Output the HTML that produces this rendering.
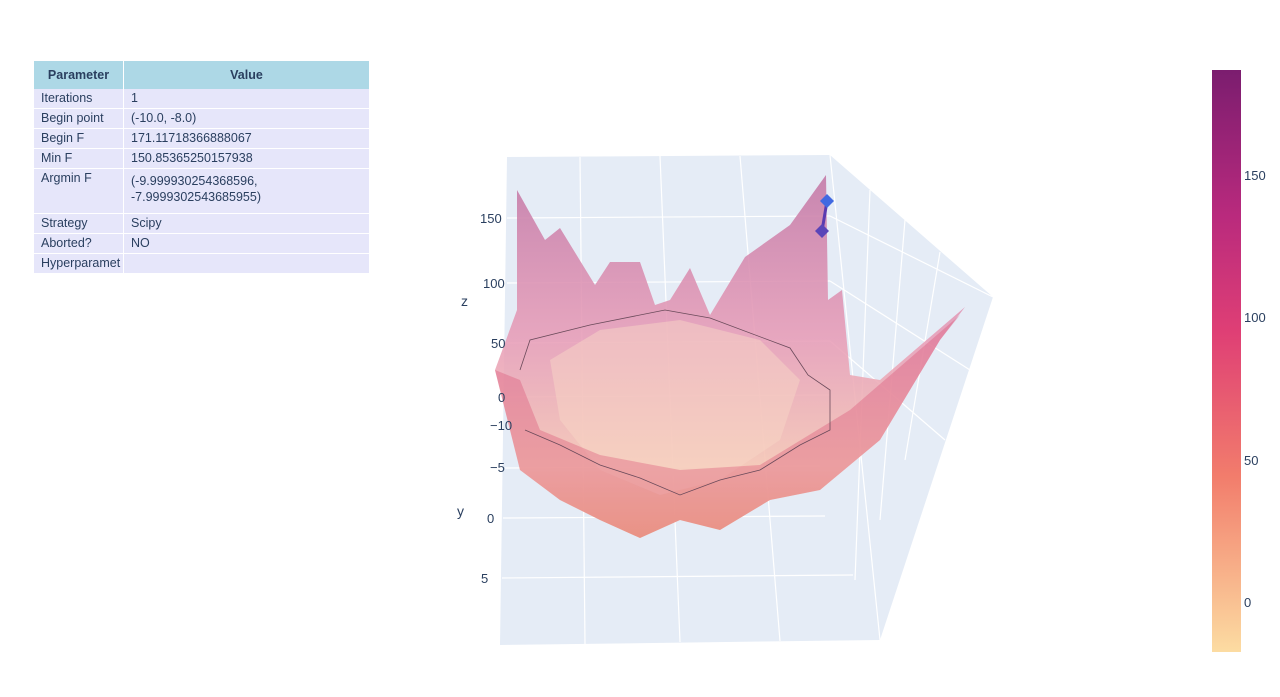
<!DOCTYPE html>
<html><head><meta charset="utf-8"><style>
body{margin:0;background:#fff;width:1280px;height:697px;overflow:hidden;font-family:"Liberation Sans",sans-serif;}
table{position:absolute;left:34px;top:61px;width:336px;border-collapse:collapse;font-size:12.5px;color:#2a3f5f;}
th{background:#add8e6;height:28px;font-weight:bold;border-right:1px solid #fff;padding:0;}
td{background:#e6e6fa;padding:1px 7px;border-bottom:1px solid #fff;border-right:1px solid #fff;vertical-align:top;height:17px;line-height:16px;}
</style></head><body>
<table>
<tr><th style="width:89px">Parameter</th><th>Value</th></tr>
<tr><td>Iterations</td><td>1</td></tr>
<tr><td>Begin point</td><td>(-10.0, -8.0)</td></tr>
<tr><td>Begin F</td><td>171.11718366888067</td></tr>
<tr><td>Min F</td><td>150.85365250157938</td></tr>
<tr><td style="height:42px">Argmin F</td><td style="padding-top:4px">(-9.999930254368596,<br>-7.9999302543685955)</td></tr>
<tr><td>Strategy</td><td>Scipy</td></tr>
<tr><td>Aborted?</td><td>NO</td></tr>
<tr><td style="white-space:nowrap;overflow:hidden;max-width:75px">Hyperparamet</td><td></td></tr>
</table>
<svg width="1280" height="697" style="position:absolute;left:0;top:0">
<defs>
<linearGradient id="cb" x1="0" y1="0" x2="0" y2="1">
<stop offset="0" stop-color="#7b1d6f"/><stop offset="0.25" stop-color="#b92a7d"/><stop offset="0.45" stop-color="#df3f75"/><stop offset="0.7" stop-color="#f27d6c"/><stop offset="1" stop-color="#fcdca2"/></linearGradient>
<linearGradient id="sf" x1="0" y1="0" x2="0" y2="1">
<stop offset="0" stop-color="#c47aa8" stop-opacity="0.9"/><stop offset="0.45" stop-color="#e79ab5" stop-opacity="0.85"/><stop offset="0.8" stop-color="#f6c6b4" stop-opacity="0.9"/><stop offset="1" stop-color="#f2b88f"/></linearGradient>
</defs>
<polygon points="507,157 830,155 993,297 880,640 500,645" fill="#e5ecf6"/>
<g stroke="#fff" stroke-width="1.2" fill="none">
<line x1="580" y1="157" x2="585" y2="644"/><line x1="660" y1="156" x2="680" y2="642"/><line x1="740" y1="156" x2="780" y2="641"/>
<line x1="507" y1="218" x2="830" y2="216"/><line x1="507" y1="283" x2="830" y2="281"/><line x1="507" y1="343" x2="830" y2="341"/><line x1="507" y1="397" x2="830" y2="395"/>
<line x1="505" y1="468" x2="820" y2="466"/><line x1="503" y1="518" x2="825" y2="516"/><line x1="502" y1="578" x2="853" y2="575"/>
<line x1="830" y1="155" x2="880" y2="640"/><line x1="870" y1="190" x2="855" y2="580"/><line x1="905" y1="220" x2="880" y2="520"/><line x1="940" y1="252" x2="905" y2="460"/>
<line x1="830" y1="216" x2="993" y2="297"/><line x1="830" y1="281" x2="970" y2="370"/><line x1="830" y1="341" x2="945" y2="440"/>
</g>
<polygon fill="url(#sf)" points="517,190 545,240 560,228 595,285 610,262 640,262 655,305 670,300 690,268 710,315 745,257 790,225 826,175 828,300 842,290 850,375 880,380 965,307 940,340 880,440 820,490 770,500 720,530 680,520 640,538 600,520 560,500 520,470 495,370 517,310"/>
<polygon fill="#f8d6c6" opacity="0.5" points="550,360 600,330 680,320 760,340 800,380 780,440 720,480 660,495 600,470 560,420"/>
<polygon fill="#d94c74" opacity="0.35" points="495,370 520,380 540,430 600,455 680,470 760,465 850,410 960,315 940,340 880,440 820,490 770,500 720,530 680,520 640,538 600,520 560,500 520,470"/>
<path d="M520,370 L530,340 L590,325 L665,310 L710,318 L790,348 L808,375 L830,390 L830,430 L800,445 L760,470 L720,480 L680,495 L640,478 L600,465 L560,445 L525,430" fill="none" stroke="#6a4a5a" stroke-width="0.8"/>
<line x1="827" y1="201" x2="822" y2="231" stroke="#5a3bb0" stroke-width="3"/>
<polygon points="827,194 834,201 827,208 820,201" fill="#4169e1"/>
<polygon points="822,224 829,231 822,238 815,231" fill="#5a45b8"/>
<g font-size="13" fill="#2a3f5f">
<text x="480" y="223">150</text><text x="483" y="288">100</text><text x="491" y="348">50</text><text x="498" y="402">0</text>
<text x="490" y="430">−10</text><text x="490" y="472">−5</text><text x="487" y="523">0</text><text x="481" y="583">5</text>
<text x="461" y="306" font-size="14">z</text><text x="457" y="516" font-size="14">y</text>
</g>
<rect x="1212" y="70" width="29" height="582" fill="url(#cb)"/>
<g font-size="13" fill="#2a3f5f">
<text x="1244" y="180">150</text><text x="1244" y="322">100</text><text x="1244" y="465">50</text><text x="1244" y="607">0</text>
</g>
</svg>
</body></html>
